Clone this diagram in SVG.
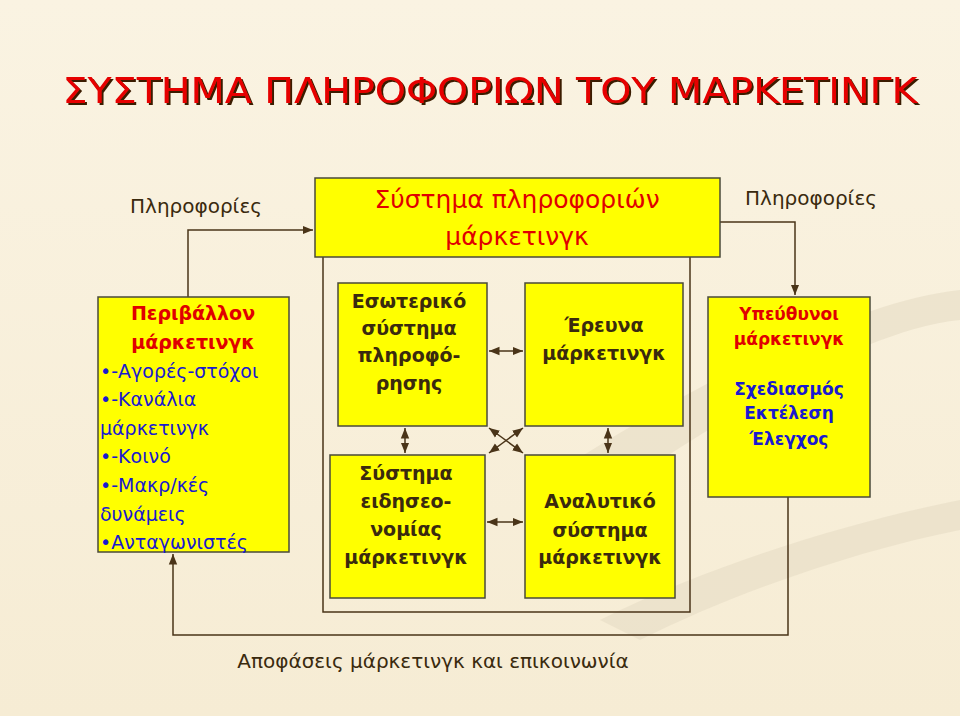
<svg xmlns="http://www.w3.org/2000/svg" width="960" height="716" viewBox="0 0 960 716">
<defs>
<linearGradient id="bg" x1="0" y1="0" x2="0" y2="1"><stop offset="0" stop-color="#faf3e2"/><stop offset="1" stop-color="#f6ecd4"/></linearGradient>
<marker id="ah" viewBox="0 0 10 10" refX="10" refY="5" markerWidth="7" markerHeight="7" orient="auto-start-reverse"><path d="M0,1 L10,5 L0,9 z" fill="#4a3418"/></marker>
<filter id="sh" x="-5%" y="-20%" width="110%" height="150%"><feDropShadow dx="2" dy="2" stdDeviation="0.3" flood-color="#3a1a00"/></filter>
</defs>
<style>
.box{fill:#ffff00;stroke:#4a4a3a;stroke-width:1.5}
.ln{fill:none;stroke:#4a3418;stroke-width:1.5}
.a{marker-end:url(#ah)}
.b{marker-start:url(#ah);marker-end:url(#ah)}
text{font-family:"DejaVu Sans","Liberation Sans",sans-serif}
.br{fill:#3a2a0e;font-size:19px;text-anchor:middle;font-weight:bold}
.rd{fill:#e00000;font-size:19px;text-anchor:middle;font-weight:bold}
.bl{fill:#1a1ad0;font-size:19px}
.lab{fill:#3a2a0e;font-size:20px}
</style>
<rect width="960" height="716" fill="url(#bg)"/>
<path d="M560,470 C700,380 860,300 960,290 L960,320 C860,330 720,420 600,500 z" fill="#e6dcc4" opacity="0.6"/>
<path d="M600,620 C720,560 860,520 960,500 L960,530 C860,550 740,590 640,640 z" fill="#e6dcc4" opacity="0.6"/>
<text x="490" y="103" text-anchor="middle" font-size="36" fill="#e60000" textLength="855" lengthAdjust="spacingAndGlyphs" filter="url(#sh)">ΣΥΣΤΗΜΑ ΠΛΗΡΟΦΟΡΙΩΝ ΤΟΥ ΜΑΡΚΕΤΙΝΓΚ</text>
<text class="lab" x="130" y="213">Πληροφορίες</text>
<text class="lab" x="745" y="205">Πληροφορίες</text>
<text class="lab" x="433" y="668" text-anchor="middle">Αποφάσεις μάρκετινγκ και επικοινωνία</text>
<g id="connectors">
<path class="ln" d="M323,257 V612 H690 V257"/>
<path class="ln a" d="M188,297 V230 H313"/>
<path class="ln a" d="M720,222 H795 V295"/>
<path class="ln a" d="M788,497 V635 H173 V554"/>
<line class="ln b" x1="489" y1="351" x2="523" y2="351"/>
<line class="ln b" x1="487" y1="522" x2="523" y2="522"/>
<line class="ln b" x1="405" y1="428" x2="405" y2="453"/>
<line class="ln b" x1="608" y1="428" x2="608" y2="453"/>
<line class="ln b" x1="489" y1="428" x2="523" y2="453"/>
<line class="ln b" x1="489" y1="453" x2="523" y2="428"/>
</g>
<g id="top"><rect class="box" x="315" y="178" width="405" height="79"/>
<text class="rd" x="517" y="208" style="font-size:25px;font-weight:normal">Σύστημα πληροφοριών</text>
<text class="rd" x="517" y="245" style="font-size:25px;font-weight:normal">μάρκετινγκ</text></g>
<g id="env"><rect class="box" x="98" y="297" width="191" height="255"/>
<text class="rd" x="193" y="320">Περιβάλλον</text>
<text class="rd" x="193" y="349">μάρκετινγκ</text>
<text class="bl" x="100" y="378">•-Αγορές-στόχοι</text>
<text class="bl" x="100" y="406">•-Κανάλια</text>
<text class="bl" x="100" y="435">μάρκετινγκ</text>
<text class="bl" x="100" y="463">•-Κοινό</text>
<text class="bl" x="100" y="492">•-Μακρ/κές</text>
<text class="bl" x="100" y="521">δυνάμεις</text>
<text class="bl" x="100" y="549">•Ανταγωνιστές</text></g>
<g id="internal"><rect class="box" x="338" y="283" width="149" height="143"/>
<text class="br" x="409" y="308">Εσωτερικό</text>
<text class="br" x="409" y="335">σύστημα</text>
<text class="br" x="409" y="362">πληροφό-</text>
<text class="br" x="409" y="390">ρησης</text></g>
<g id="intel"><rect class="box" x="330" y="455" width="155" height="143"/>
<text class="br" x="406" y="480">Σύστημα</text>
<text class="br" x="406" y="508">ειδησεο-</text>
<text class="br" x="406" y="536">νομίας</text>
<text class="br" x="406" y="564">μάρκετινγκ</text></g>
<g id="research"><rect class="box" x="525" y="283" width="158" height="143"/>
<text class="br" x="604" y="332">Έρευνα</text>
<text class="br" x="604" y="360">μάρκετινγκ</text></g>
<g id="analytic"><rect class="box" x="525" y="455" width="150" height="143"/>
<text class="br" x="600" y="508">Αναλυτικό</text>
<text class="br" x="600" y="537">σύστημα</text>
<text class="br" x="600" y="564">μάρκετινγκ</text></g>
<g id="managers"><rect class="box" x="708" y="297" width="162" height="200"/>
<text class="rd" x="789" y="320" style="font-size:17px">Υπεύθυνοι</text>
<text class="rd" x="789" y="345" style="font-size:17px">μάρκετινγκ</text>
<text class="bl" x="789" y="395" style="font-size:17px;font-weight:bold;text-anchor:middle">Σχεδιασμός</text>
<text class="bl" x="789" y="419" style="font-size:17px;font-weight:bold;text-anchor:middle">Εκτέλεση</text>
<text class="bl" x="789" y="445" style="font-size:17px;font-weight:bold;text-anchor:middle">Έλεγχος</text></g>
</svg>
